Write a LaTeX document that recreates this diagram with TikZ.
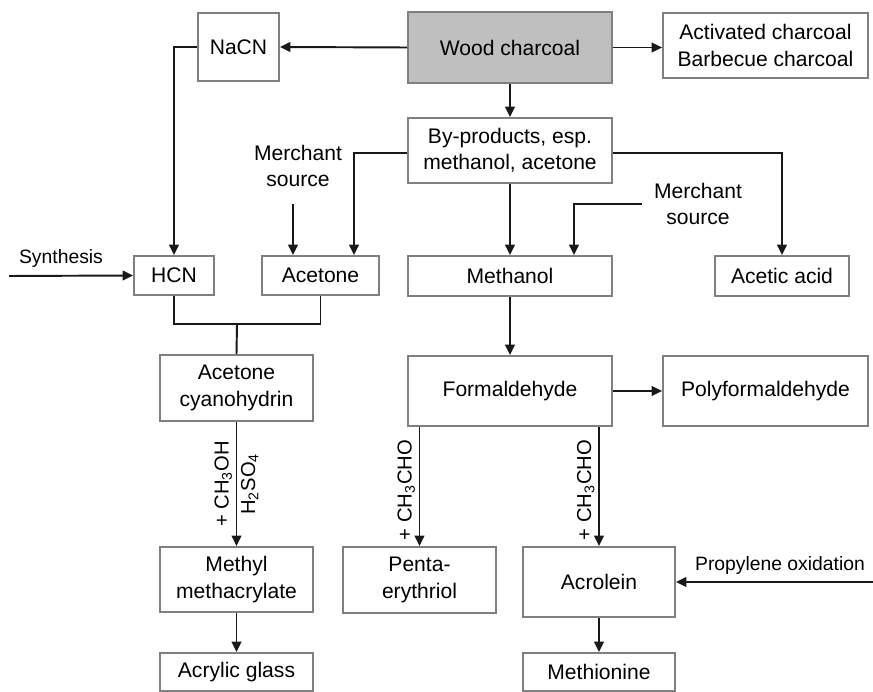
\documentclass[tikz,border=0pt]{standalone}
\usepackage{fontspec}
\setmainfont{Liberation Sans}
\usetikzlibrary{arrows.meta,calc}

\begin{document}
\begin{tikzpicture}[x=0.02cm,y=-0.02cm,
  box/.style={draw=black!50,line width=1pt,align=center,inner sep=0pt,
    font=\fontsize{12}{15}\selectfont},
  main box/.style={box,fill=black!25},
  note/.style={align=center,font=\fontsize{12}{15}\selectfont},
  side note/.style={font=\fontsize{11}{13}\selectfont},
  link/.style={draw=black!90,line width=1.1pt},
  flow/.style={link,-{Triangle[length=6pt,width=5.5pt]}},
  reagent/.style={rotate=90,inner sep=2pt,font=\fontsize{11.5}{13}\selectfont}]
  \useasboundingbox (0,0) rectangle (873,692);

  % boxes
  \node[main box,minimum width=4.08cm,minimum height=1.42cm] (wood charcoal) at (510,47.5) {Wood charcoal};
  \node[box,minimum width=1.62cm,minimum height=1.36cm] (nacn) at (238.5,47) {NaCN};
  \node[box,minimum width=4.1cm,minimum height=1.3cm] (activated) at (765.5,45.5) {Activated charcoal\\Barbecue charcoal};
  \node[box,minimum width=4.08cm,minimum height=1.3cm] (by products) at (510,150.5) {By-products, esp.\\methanol, acetone};
  \node[box,minimum width=1.6cm,minimum height=0.78cm] (hcn) at (174,275.5) {HCN};
  \node[box,minimum width=2.34cm,minimum height=0.78cm] (acetone) at (320.5,275.5) {Acetone};
  \node[box,minimum width=4.08cm,minimum height=0.8cm] (methanol) at (510,276) {Methanol};
  \node[box,minimum width=2.68cm,minimum height=0.8cm] (acetic acid) at (782,276) {Acetic acid};
  \node[box,minimum width=3.06cm,minimum height=1.32cm] (cyanohydrin) at (236.5,388) {Acetone\\cyanohydrin};
  \node[box,minimum width=4.08cm,minimum height=1.4cm] (formaldehyde) at (510,391) {Formaldehyde};
  \node[box,minimum width=4.1cm,minimum height=1.4cm] (polyformaldehyde) at (765.5,391) {Polyformaldehyde};
  \node[box,minimum width=3.06cm,minimum height=1.3cm] (methacrylate) at (236.5,579.5) {Methyl\\methacrylate};
  \node[box,minimum width=3.06cm,minimum height=1.32cm] (pentaerythriol) at (419.5,580) {Penta-\\erythriol};
  \node[box,minimum width=3.04cm,minimum height=1.4cm] (acrolein) at (599,582) {Acrolein};
  \node[box,minimum width=3.06cm,minimum height=0.76cm] (acrylic glass) at (236.5,672) {Acrylic glass};
  \node[box,minimum width=3.04cm,minimum height=0.76cm] (methionine) at (599,672) {Methionine};

  % outside sources
  \node[note] (merchant 1) at (298,166) {Merchant\\source};
  \node[note] (merchant 2) at (698,204) {Merchant\\source};
  \node[side note] (synthesis) at (61,259) {Synthesis};
  \node[side note] (propylene) at (780,566) {Propylene oxidation};
  \coordinate (merchant 1 end) at (293,204);
  \coordinate (merchant 2 end) at (642,204);
  \coordinate (synthesis end) at (9,276);
  \coordinate (propylene end) at (873,582);
  \coordinate (hcn acetone) at (237,324);

  % connectors
  \draw[flow] (wood charcoal.west) -- (nacn.east);
  \draw[flow] (wood charcoal.east) -- (wood charcoal.east -| activated.west);
  \draw[flow] (wood charcoal.south) -- (by products.north);
  \draw[flow] (nacn.west) -| (hcn.north);
  \draw[flow] ([yshift=-2.5*0.02cm]by products.west) -| ($(acetone.north)+(33.5,0)$);
  \draw[flow] ([yshift=-2.5*0.02cm]by products.east) -| (acetic acid.north);
  \draw[flow] (merchant 1 end) -- (merchant 1 end |- acetone.north);
  \draw[flow] (by products.south) -- (methanol.north);
  \draw[flow] (merchant 2 end) -| ($(methanol.north)+(64,0)$);
  \draw[flow] (synthesis end) -- (hcn.west);
  \draw[link] (hcn.south) |- (hcn acetone) -| (acetone.south);
  \draw[link] (hcn acetone) -- (cyanohydrin.north);
  \draw[flow] (cyanohydrin.south) -- (methacrylate.north)
    node[reagent,midway,anchor=south] {+ CH\textsubscript{3}OH}
    node[reagent,midway,anchor=north] {H\textsubscript{2}SO\textsubscript{4}};
  \draw[flow] (methacrylate.south) -- (acrylic glass.north);
  \draw[flow] (methanol.south) -- (formaldehyde.north);
  \draw[flow] (formaldehyde.east) -- (polyformaldehyde.west);
  \draw[flow] (formaldehyde.south -| pentaerythriol.north) -- (pentaerythriol.north)
    node[reagent,pos=0.53,anchor=south] {+ CH\textsubscript{3}CHO};
  \draw[flow] (formaldehyde.south -| acrolein.north) -- (acrolein.north)
    node[reagent,pos=0.53,anchor=south] {+ CH\textsubscript{3}CHO};
  \draw[flow] (propylene end) -- (acrolein.east);
  \draw[flow] (acrolein.south) -- (methionine.north);
\end{tikzpicture}
\end{document}
